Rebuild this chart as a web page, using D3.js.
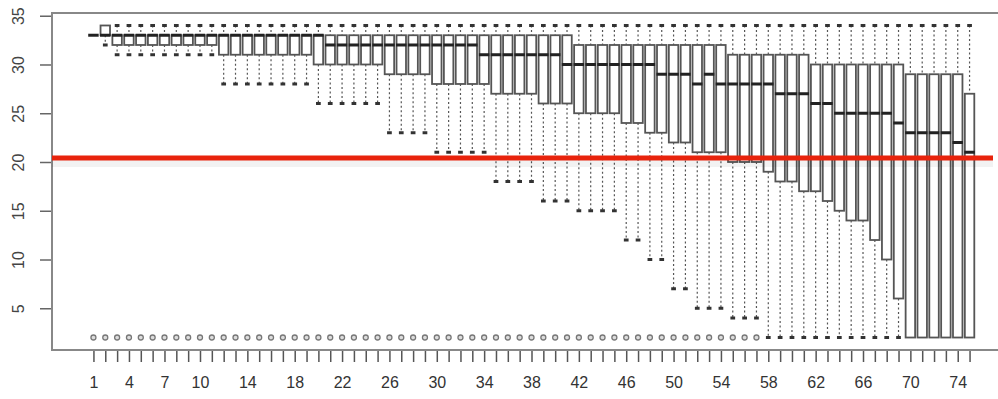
<!DOCTYPE html>
<html>
<head>
<meta charset="utf-8">
<script src="https://cdn.jsdelivr.net/npm/d3@7"></script>
<style>
  html, body { margin: 0; padding: 0; background: #fff; }
  svg { display: block; font-family: "Liberation Sans", Arial, sans-serif; }
</style>
</head>
<body>
<div id="chart"></div>
<script>
// one box per category (values are ranks 2..34)
const categories = d3.range(1, 76);
const whiskerLow = [33, 32, 31, 31, 31, 31, 31, 31, 31, 31, 31, 28, 28, 28, 28, 28, 28, 28, 28, 26,
                    26, 26, 26, 26, 26, 23, 23, 23, 23, 21, 21, 21, 21, 21, 18, 18, 18, 18, 16, 16,
                    16, 15, 15, 15, 15, 12, 12, 10, 10, 7, 7, 5, 5, 5, 4, 4, 4, 2, 2, 2,
                    2, 2, 2, 2, 2, 2, 2, 2, 2, 2, 2, 2, 2, 2, 2];
const q1 =         [33, 33, 32, 32, 32, 32, 32, 32, 32, 32, 32, 31, 31, 31, 31, 31, 31, 31, 31, 30,
                    30, 30, 30, 30, 30, 29, 29, 29, 29, 28, 28, 28, 28, 28, 27, 27, 27, 27, 26, 26,
                    26, 25, 25, 25, 25, 24, 24, 23, 23, 22, 22, 21, 21, 21, 20, 20, 20, 19, 18, 18,
                    17, 17, 16, 15, 14, 14, 12, 10, 6, 2, 2, 2, 2, 2, 2];
const median =     [33, 33, 33, 33, 33, 33, 33, 33, 33, 33, 33, 33, 33, 33, 33, 33, 33, 33, 33, 33,
                    32, 32, 32, 32, 32, 32, 32, 32, 32, 32, 32, 32, 32, 31, 31, 31, 31, 31, 31, 31,
                    30, 30, 30, 30, 30, 30, 30, 30, 29, 29, 29, 28, 29, 28, 28, 28, 28, 28, 27, 27,
                    27, 26, 26, 25, 25, 25, 25, 25, 24, 23, 23, 23, 23, 22, 21];
const q3 =         [33, 34, 33, 33, 33, 33, 33, 33, 33, 33, 33, 33, 33, 33, 33, 33, 33, 33, 33, 33,
                    33, 33, 33, 33, 33, 33, 33, 33, 33, 33, 33, 33, 33, 33, 33, 33, 33, 33, 33, 33,
                    33, 32, 32, 32, 32, 32, 32, 32, 32, 32, 32, 32, 32, 32, 31, 31, 31, 31, 31, 31,
                    31, 30, 30, 30, 30, 30, 30, 30, 30, 29, 29, 29, 29, 29, 27];
const whiskerHigh = [33, 34, 34, 34, 34, 34, 34, 34, 34, 34, 34, 34, 34, 34, 34, 34, 34, 34, 34, 34,
                    34, 34, 34, 34, 34, 34, 34, 34, 34, 34, 34, 34, 34, 34, 34, 34, 34, 34, 34, 34,
                    34, 34, 34, 34, 34, 34, 34, 34, 34, 34, 34, 34, 34, 34, 34, 34, 34, 34, 34, 34,
                    34, 34, 34, 34, 34, 34, 34, 34, 34, 34, 34, 34, 34, 34, 34];
// low outlier (value 2) shown for the first 57 boxes
const outlierValue = 2;
const outlierCount = 57;

const xTickLabels = [1, 4, 7, 10, 14, 18, 22, 26, 30, 34, 38, 42, 46, 50, 54, 58, 62, 66, 70, 74];
const yTickValues = [5, 10, 15, 20, 25, 30, 35];
const refLine = 20.4;

const width = 998, height = 399;
const plot = { left: 52, right: 1011, top: 13, bottom: 350 };

const data = categories.map((c, i) => ({
    id: c,
    lo: whiskerLow[i], q1: q1[i], med: median[i], q3: q3[i], hi: whiskerHigh[i],
    outlier: i < outlierCount ? outlierValue : null
}));

const x = d3.scaleLinear().domain([-2.5, 78.5]).range([plot.left, plot.right]);
const y = d3.scaleLinear().domain([0.72, 35.28]).range([plot.bottom, plot.top]);
const boxW = x(0.8) - x(0);
const stapleW = boxW * 0.5;

const svg = d3.select("#chart").append("svg")
    .attr("width", width)
    .attr("height", height);

// x axis: a tick per box, labels only where R kept them
const xAxis = d3.axisBottom(x)
    .tickValues(categories)
    .tickSize(12)
    .tickFormat(d => xTickLabels.includes(d) ? d : "");

const gx = svg.append("g")
    .attr("transform", `translate(0, ${plot.bottom})`)
    .call(xAxis);
gx.select(".domain").remove();
gx.selectAll(".tick line").attr("stroke", "#555").attr("stroke-width", 1.5);
gx.selectAll(".tick text")
    .attr("y", 32)
    .attr("dy", "0.35em")
    .attr("fill", "#333")
    .style("font-size", "16px");

const yAxis = d3.axisLeft(y)
    .tickValues(yTickValues)
    .tickSize(12);

const gy = svg.append("g")
    .attr("transform", `translate(${plot.left}, 0)`)
    .call(yAxis);
gy.select(".domain").remove();
gy.selectAll(".tick line").attr("stroke", "#666").attr("stroke-width", 1.5);
gy.selectAll(".tick text")
    .attr("transform", "rotate(-90)")
    .attr("x", 0)
    .attr("y", -34)
    .attr("dy", "0.35em")
    .attr("text-anchor", "middle")
    .attr("fill", "#444")
    .style("font-size", "16px");

// boxes
const boxes = svg.append("g").selectAll(".box")
    .data(data)
    .enter()
    .append("g")
    .attr("class", "box")
    .attr("transform", d => `translate(${x(d.id)}, 0)`);

// dashed whiskers
boxes.filter(d => d.hi > d.q3).append("line")
    .attr("x1", 0).attr("x2", 0)
    .attr("y1", d => y(d.hi)).attr("y2", d => y(d.q3))
    .attr("stroke", "#555").attr("stroke-width", 1.2).attr("stroke-dasharray", "2,2.5");
boxes.filter(d => d.lo < d.q1).append("line")
    .attr("x1", 0).attr("x2", 0)
    .attr("y1", d => y(d.q1)).attr("y2", d => y(d.lo))
    .attr("stroke", "#555").attr("stroke-width", 1.2).attr("stroke-dasharray", "2,2.5");

// staples
boxes.filter(d => d.hi > d.q3).append("line")
    .attr("x1", -stapleW / 2).attr("x2", stapleW / 2)
    .attr("y1", d => y(d.hi)).attr("y2", d => y(d.hi))
    .attr("stroke", "#333").attr("stroke-width", 3);
boxes.filter(d => d.lo < d.q1).append("line")
    .attr("x1", -stapleW / 2).attr("x2", stapleW / 2)
    .attr("y1", d => y(d.lo)).attr("y2", d => y(d.lo))
    .attr("stroke", "#333").attr("stroke-width", 3);

boxes.append("rect")
    .attr("x", -boxW / 2)
    .attr("width", boxW)
    .attr("y", d => y(d.q3))
    .attr("height", d => y(d.q1) - y(d.q3))
    .attr("fill", "#fff")
    .attr("stroke", "#555")
    .attr("stroke-width", 1.8);

boxes.append("line")
    .attr("x1", -boxW / 2 - 0.5).attr("x2", boxW / 2 + 0.5)
    .attr("y1", d => y(d.med)).attr("y2", d => y(d.med))
    .attr("stroke", "#222")
    .attr("stroke-width", 3);

boxes.filter(d => d.outlier !== null).append("circle")
    .attr("cx", 0)
    .attr("cy", d => y(d.outlier))
    .attr("r", 2.5)
    .attr("fill", "#ddd")
    .attr("stroke", "#777")
    .attr("stroke-width", 1.3);

// frame
svg.append("rect")
    .attr("x", plot.left).attr("y", plot.top)
    .attr("width", plot.right - plot.left)
    .attr("height", plot.bottom - plot.top)
    .attr("fill", "none")
    .attr("stroke", "#888")
    .attr("stroke-width", 2);

// faint shadow, then red reference line
svg.append("line")
    .attr("x1", plot.left).attr("x2", 993)
    .attr("y1", y(refLine) + 5).attr("y2", y(refLine) + 5)
    .attr("stroke", "#000")
    .attr("stroke-opacity", 0.05)
    .attr("stroke-width", 8);
svg.append("line")
    .attr("x1", plot.left).attr("x2", 993)
    .attr("y1", y(refLine)).attr("y2", y(refLine))
    .attr("stroke", "#e8230c")
    .attr("stroke-width", 5);
</script>
</body>
</html>
